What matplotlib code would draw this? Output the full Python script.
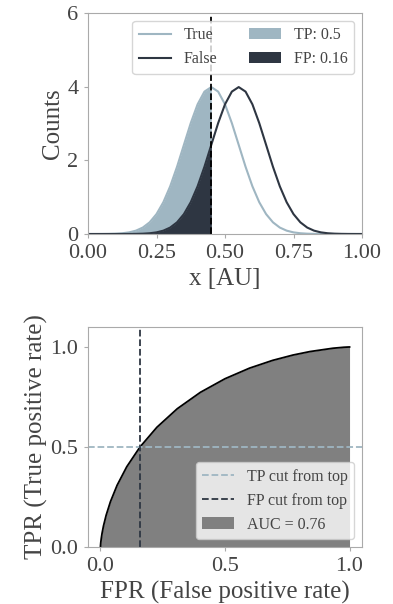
"""Score distributions for true / false samples and the resulting ROC curve"""

import matplotlib.pyplot as plt

# top panel: curve heights, x from 0 to 1 in steps of 0.025
x_au = [i * 0.025 for i in range(41)]
true_counts = [0.0002, 0.0005, 0.0013, 0.0035, 0.0087, 0.0203, 0.0443, 0.0909, 0.175, 0.317,
               0.540, 0.863, 1.295, 1.826, 2.420, 3.011, 3.521, 3.866, 3.989, 3.866,
               3.521, 3.011, 2.420, 1.826, 1.295, 0.863, 0.540, 0.317, 0.175, 0.0909,
               0.0443, 0.0203, 0.0087, 0.0035, 0.0013, 0.0005, 0.0002, 0.0, 0.0, 0.0, 0.0]
false_counts = [0.0, 0.0, 0.0, 0.0, 0.0002, 0.0005, 0.0013, 0.0035, 0.0087, 0.0203,
                0.0443, 0.0909, 0.175, 0.317, 0.540, 0.863, 1.295, 1.826, 2.420, 3.011,
                3.521, 3.866, 3.989, 3.866, 3.521, 3.011, 2.420, 1.826, 1.295, 0.863,
                0.540, 0.317, 0.175, 0.0909, 0.0443, 0.0203, 0.0087, 0.0035, 0.0013, 0.0005, 0.0002]
cut = 0.45
tp_frac = 0.5
fp_frac = 0.16

# bottom panel: ROC points
fpr = [0.0, 0.000003, 0.00003, 0.00023, 0.00058, 0.00135, 0.003, 0.0062, 0.0122, 0.0228,
       0.0401, 0.0668, 0.1056, 0.1587, 0.2266, 0.3085, 0.4013, 0.5, 0.5987, 0.6915,
       0.7734, 0.8413, 0.9332, 0.9772, 0.9938, 0.9987, 1.0]
tpr = [0.0, 0.00023, 0.00135, 0.0062, 0.0122, 0.0228, 0.0401, 0.0668, 0.1056, 0.1587,
       0.2266, 0.3085, 0.4013, 0.5, 0.5987, 0.6915, 0.7734, 0.8413, 0.8944, 0.9332,
       0.9599, 0.9772, 0.9938, 0.9987, 0.9998, 1.0, 1.0]
auc = 0.76

LIGHT = "#9fb6c2"
DARK = "#2e3642"
TXT = "#444444"
SPINE = "#aaaaaa"

plt.rcParams["font.family"] = ["Liberation Serif", "DejaVu Serif"]
plt.rcParams["font.size"] = 15
plt.rcParams["text.color"] = TXT
plt.rcParams["axes.labelcolor"] = TXT
plt.rcParams["xtick.color"] = TXT
plt.rcParams["ytick.color"] = TXT
plt.rcParams["axes.edgecolor"] = SPINE


def main():
    fig = plt.figure(figsize=(3.93, 6.04), dpi=100)
    ax1 = fig.add_axes([88 / 393, 1 - 234 / 604, 274 / 393, 221 / 604])
    ax2 = fig.add_axes([88 / 393, 1 - 547 / 604, 274 / 393, 220 / 604])

    left = [v <= cut + 1e-9 for v in x_au]
    ax1.plot(x_au, true_counts, color=LIGHT, lw=1.5, label="True")
    ax1.plot(x_au, false_counts, color=DARK, lw=1.5, label="False")
    ax1.fill_between(x_au, 0, true_counts, where=left, color=LIGHT, lw=0,
                     label="TP: " + str(tp_frac))
    ax1.fill_between(x_au, 0, false_counts, where=left, color=DARK, lw=0,
                     label="FP: " + str(fp_frac))
    ax1.axvline(cut, color="black", ls="--", lw=1.3)
    ax1.set_xlim(0, 1)
    ax1.set_ylim(0, 6)
    ax1.set_xticks([0, 0.25, 0.5, 0.75, 1.0])
    ax1.set_xticklabels(["0.00", "0.25", "0.50", "0.75", "1.00"])
    ax1.set_yticks([0, 2, 4, 6])
    ax1.set_xlabel("x [AU]", fontsize=18, labelpad=4)
    ax1.set_ylabel("Counts", fontsize=18, labelpad=2)
    ax1.tick_params(length=3, color=SPINE, labelsize=16, pad=4)
    ax1.legend(ncol=2, loc="upper right", fontsize=11.5)

    ax2.fill_between(fpr, 0, tpr, color="#808080", lw=0, label="AUC = " + str(auc))
    ax2.plot(fpr, tpr, color="black", lw=1.3)
    ax2.axhline(tp_frac, color=LIGHT, ls="--", lw=1.3, label="TP cut from top")
    ax2.axvline(fp_frac, color=DARK, ls="--", lw=1.3, label="FP cut from top")
    ax2.set_xlim(-0.05, 1.05)
    ax2.set_ylim(0, 1.1)
    ax2.set_xticks([0, 0.5, 1.0])
    ax2.set_yticks([0, 0.5, 1.0])
    ax2.set_xlabel("FPR (False positive rate)", fontsize=18, labelpad=4)
    ax2.set_ylabel("TPR (True positive rate)", fontsize=18, labelpad=2)
    ax2.tick_params(length=3, color=SPINE, labelsize=16, pad=4)
    h, l = ax2.get_legend_handles_labels()
    ax2.legend([h[1], h[2], h[0]], [l[1], l[2], l[0]], loc="lower right", fontsize=11.5)

    fig.savefig("out.png", dpi=100)


main()
